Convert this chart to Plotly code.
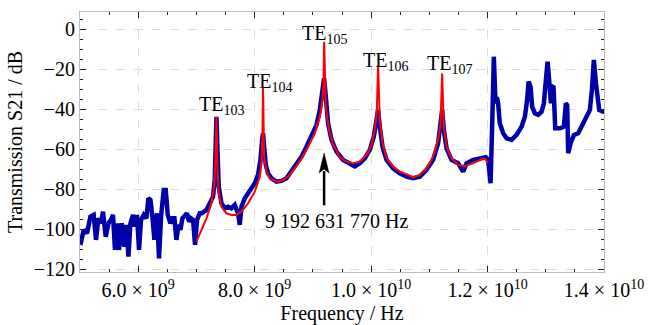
import numpy as np
import plotly.graph_objects as go

# ---------------- data ----------------
# measured transmission (blue): frequency in GHz, S21 in dB
meas_freq_ghz = [
    5.007, 5.064, 5.120, 5.179, 5.235, 5.275, 5.316, 5.361, 5.395, 5.442,
    5.488, 5.533, 5.567, 5.601, 5.636, 5.670, 5.716, 5.763, 5.797, 5.832,
    5.866, 5.911, 5.945, 5.979, 6.014, 6.048, 6.095, 6.141, 6.175, 6.210,
    6.244, 6.278, 6.323, 6.357, 6.392, 6.438, 6.473, 6.507, 6.553, 6.588,
    6.622, 6.656, 6.691, 6.725, 6.759, 6.804, 6.838, 6.873, 6.907, 6.942,
    6.976, 7.010, 7.057, 7.091, 7.172, 7.229, 7.285, 7.314, 7.332, 7.344,
    7.361, 7.383, 7.430, 7.486, 7.543, 7.601, 7.658, 7.715, 7.744, 7.773,
    7.830, 7.887, 7.945, 8.002, 8.058, 8.100, 8.127, 8.144, 8.162, 8.191,
    8.230, 8.289, 8.375, 8.460, 8.546, 8.632, 8.718, 8.804, 8.890, 8.976,
    9.062, 9.119, 9.165, 9.192, 9.222, 9.261, 9.320, 9.405, 9.519, 9.634,
    9.720, 9.806, 9.892, 9.978, 10.046, 10.093, 10.120, 10.149, 10.196, 10.265,
    10.378, 10.493, 10.608, 10.722, 10.837, 10.952, 11.065, 11.151, 11.192, 11.220,
    11.249, 11.296, 11.381, 11.495, 11.581, 11.639, 11.753, 11.868, 11.971, 12.010,
    12.052, 12.082, 12.108, 12.137, 12.160, 12.182, 12.210, 12.268, 12.327, 12.412,
    12.498, 12.584, 12.641, 12.680, 12.704, 12.739, 12.766, 12.813, 12.869, 12.928,
    12.967, 13.002, 13.031, 13.058, 13.088, 13.117, 13.134, 13.162, 13.242, 13.311,
    13.345, 13.368, 13.385, 13.426, 13.483, 13.557, 13.615, 13.701, 13.758, 13.792,
    13.826, 13.861, 13.918, 13.986, 14.030,
]
meas_s21_db = [
    -107.8, -100.3, -102.0, -93.7, -92.8, -105.3, -94.5, -97.0, -91.2, -103.7,
    -97.0, -95.3, -92.8, -110.3, -97.0, -110.3, -97.0, -108.7, -97.8, -113.7,
    -97.0, -92.8, -98.7, -92.8, -110.3, -95.3, -92.8, -94.5, -84.5, -85.3,
    -93.7, -105.3, -92.0, -114.5, -93.7, -80.3, -80.3, -92.8, -97.0, -94.5,
    -94.5, -105.3, -97.8, -100.3, -94.5, -92.8, -92.0, -96.2, -94.5, -95.3,
    -107.8, -95.3, -92.0, -92.0, -90.3, -87.0, -83.7, -75.3, -55.3, -43.7,
    -60.3, -78.7, -87.0, -89.5, -88.7, -89.5, -87.8, -92.0, -97.8, -88.7,
    -84.5, -82.0, -80.3, -77.0, -72.8, -65.3, -55.3, -52.0, -58.7, -67.8,
    -72.0, -74.5, -76.2, -75.8, -74.5, -71.2, -67.8, -63.7, -58.7, -53.7,
    -47.8, -40.3, -32.0, -24.5, -33.7, -47.0, -55.3, -61.2, -65.3, -67.0,
    -68.5, -67.0, -64.5, -60.3, -53.7, -45.3, -40.3, -48.7, -58.7, -65.3,
    -69.5, -72.0, -73.7, -74.5, -73.7, -70.3, -65.3, -57.0, -48.7, -40.3,
    -50.3, -59.5, -65.3, -67.0, -71.2, -67.0, -65.3, -64.5, -64.0, -65.3,
    -77.0, -45.0, -13.7, -37.0, -34.0, -37.0, -47.0, -52.0, -54.5, -55.3,
    -52.8, -48.7, -43.7, -35.3, -26.2, -28.7, -38.7, -42.0, -42.8, -41.2,
    -37.0, -25.3, -16.2, -25.3, -37.0, -28.7, -29.0, -49.5, -49.5, -48.7,
    -37.0, -38.0, -62.0, -57.0, -52.8, -52.0, -48.7, -44.5, -40.3, -30.3,
    -15.3, -27.0, -40.3, -41.2, -41.0,
]

# fitted resonance model (red)
fit_freq_ghz = [
    7.000, 7.086, 7.172, 7.258, 7.302, 7.326, 7.344, 7.361, 7.383, 7.430,
    7.515, 7.601, 7.687, 7.773, 7.887, 8.002, 8.088, 8.117, 8.132, 8.144,
    8.162, 8.203, 8.259, 8.375, 8.460, 8.574, 8.689, 8.804, 8.918, 9.033,
    9.119, 9.165, 9.182, 9.193, 9.206, 9.222, 9.278, 9.347, 9.462, 9.577,
    9.691, 9.806, 9.921, 10.007, 10.064, 10.098, 10.120, 10.149, 10.196, 10.265,
    10.378, 10.493, 10.636, 10.722, 10.837, 10.952, 11.065, 11.151, 11.192, 11.220,
    11.249, 11.296, 11.381, 11.495, 11.610, 11.725, 11.838, 11.924, 11.971, 12.000,
]
fit_s21_db = [
    -106.2, -100.3, -94.5, -87.0, -78.7, -65.3, -43.7, -68.7, -82.0, -88.7,
    -92.0, -92.8, -92.8, -91.2, -87.0, -81.2, -73.7, -67.0, -55.0, -28.7,
    -63.7, -71.2, -74.5, -76.2, -75.7, -73.7, -69.5, -64.5, -58.7, -52.0,
    -43.7, -35.3, -28.0, -6.2, -30.0, -38.7, -50.3, -57.8, -63.7, -66.2,
    -67.0, -66.2, -62.8, -57.8, -50.3, -40.3, -17.9, -45.3, -57.0, -64.5,
    -68.7, -71.2, -72.8, -74.0, -72.8, -69.5, -63.7, -55.3, -47.0, -22.0,
    -48.7, -58.7, -64.5, -67.8, -68.3, -67.3, -65.8, -64.8, -65.0, -67.0,
]

# mode labels
mode_labels = ["TE<sub>103</sub>", "TE<sub>104</sub>", "TE<sub>105</sub>",
               "TE<sub>106</sub>", "TE<sub>107</sub>"]
mode_label_freq_ghz = [7.435, 8.259, 9.204, 10.253, 11.352]
mode_label_db = [-37.9, -26.4, -2.4, -15.9, -17.4]

cs_freq_hz = 9192631770.0
cs_label = "9 192 631 770 Hz"

x_tick_vals = [6e9, 8e9, 1e10, 1.2e10, 1.4e10]
x_tick_text = ["6.0 \u00d7 10<sup>9</sup>", "8.0 \u00d7 10<sup>9</sup>",
               "1.0 \u00d7 10<sup>10</sup>", "1.2 \u00d7 10<sup>10</sup>",
               "1.4 \u00d7 10<sup>10</sup>"]

# ---------------- figure ----------------
FONT = "Liberation Serif, Times New Roman, serif"

fig = go.Figure()
fig.add_trace(go.Scatter(
    x=np.array(meas_freq_ghz) * 1e9, y=meas_s21_db, mode="lines",
    line=dict(color="#0000aa", width=4.5), hoverinfo="skip", showlegend=False))
fig.add_trace(go.Scatter(
    x=np.array(fit_freq_ghz) * 1e9, y=fit_s21_db, mode="lines",
    line=dict(color="#ff0000", width=2), hoverinfo="skip", showlegend=False))

for txt, fx, fy in zip(mode_labels, mode_label_freq_ghz, mode_label_db):
    fig.add_annotation(x=fx * 1e9, y=fy, text=txt, showarrow=False,
                       font=dict(family=FONT, size=20, color="black"),
                       xanchor="center", yanchor="middle")

# arrow to Cs clock frequency
head_db, tail_db, base_db = -61.9, -88.0, -71.9
half_w = 0.085e9
fig.add_shape(type="line", x0=cs_freq_hz, x1=cs_freq_hz, y0=tail_db, y1=base_db + 1,
              line=dict(color="black", width=2.5))
fig.add_shape(type="path",
              path=f"M {cs_freq_hz},{head_db} L {cs_freq_hz + half_w},{base_db} "
                   f"L {cs_freq_hz},{base_db + 2} L {cs_freq_hz - half_w},{base_db} Z",
              fillcolor="black", line=dict(color="black", width=0.5))
fig.add_annotation(x=9.402e9, y=-95.8, text=cs_label, showarrow=False,
                   font=dict(family=FONT, size=20, color="black"),
                   xanchor="center", yanchor="middle")

axis_common = dict(
    showline=True, linecolor="#bdbdbd", linewidth=1, mirror="ticks",
    ticks="inside", ticklen=6, tickcolor="#222222", tickwidth=1,
    showgrid=True, gridcolor="#dddddd", griddash="dash", gridwidth=1,
    zeroline=False,
    tickfont=dict(family=FONT, size=20, color="black"),
)

fig.update_xaxes(
    range=[5e9, 1.4e10], tickvals=x_tick_vals, ticktext=x_tick_text,
    minor=dict(ticks="inside", ticklen=3, dtick=0.5e9, tick0=5e9, tickcolor="#222222", showgrid=False),
    title=dict(text="Frequency / Hz", font=dict(family=FONT, size=20, color="black"), standoff=8),
    **axis_common)
fig.update_yaxes(
    range=[-121.35, 8.65], tickmode="linear", tick0=0, dtick=20,
    minor=dict(ticks="inside", ticklen=3, dtick=5, tick0=0, tickcolor="#222222", showgrid=False),
    title=dict(text="Transmission S21 / dB", font=dict(family=FONT, size=20, color="black"), standoff=5),
    **axis_common)

fig.update_layout(
    width=648, height=325,
    margin=dict(l=80, r=44, t=12, b=53, autoexpand=False),
    paper_bgcolor="white", plot_bgcolor="white",
    font=dict(family=FONT, size=20, color="black"),
)

fig.write_html("out.html")
